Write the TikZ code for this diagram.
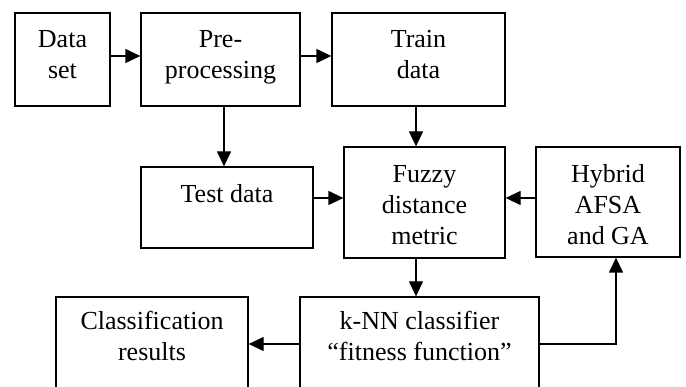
\documentclass[tikz,border=0pt]{standalone}
\usepackage{fontspec}
\setmainfont{Liberation Serif}
\usetikzlibrary{arrows.meta,calc}
\begin{document}
\begin{tikzpicture}[x=1pt,y=-1pt,
  box/.style={draw,line width=1.3pt,rectangle,inner sep=0pt},
  lbl/.style={anchor=north,inner sep=0pt,align=center,font=\fontsize{26}{31}\selectfont},
  arr/.style={line width=1.3pt,-{Triangle[length=15pt,width=14pt]}}]
\useasboundingbox (0,0) rectangle (686,387);
\clip (0,0) rectangle (686,387);
% boxes (centre, width, height)
\node[box,minimum width=95pt,minimum height=93pt] (data) at (62.5,59.5) {};
\node[box,minimum width=159pt,minimum height=93pt] (pre) at (220.5,59.5) {};
\node[box,minimum width=173pt,minimum height=93pt] (train) at (418.5,59.5) {};
\node[box,minimum width=172pt,minimum height=81pt] (test) at (227,207.5) {};
\node[box,minimum width=161pt,minimum height=111pt] (fuzzy) at (424.5,202.5) {};
\node[box,minimum width=144pt,minimum height=110pt] (hybrid) at (608,202) {};
\node[box,minimum width=192pt,minimum height=110pt] (class) at (152,352) {};
\node[box,minimum width=239pt,minimum height=110pt] (knn) at (419.5,352) {};
% labels
\node[lbl] (tdata) at ($(data.north)+(0,13.3)$) {\strut Data\\set};
\node[lbl] (tpre) at ($(pre.north)+(0,13.3)$) {\strut Pre-\\processing};
\node[lbl] (ttrain) at ($(train.north)+(0,13.3)$) {\strut Train\\data};
\node[lbl] (ttest) at ($(test.north)+(0,14.3)$) {\strut Test data};
\node[lbl] (tfuzzy) at ($(fuzzy.north)+(0,14.3)$) {\strut Fuzzy\\distance\\metric};
\node[lbl] (thybrid) at ($(hybrid.north)+(0,14.3)$) {\strut Hybrid\\AFSA\\and GA};
\node[lbl] (tclass) at ($(class.north)+(0,11.3)$) {\strut Classification\\results};
\node[lbl] (tknn) at ($(knn.north)+(0,11.3)$) {\strut k-NN classifier\\“fitness function”};
% helper coordinates
\coordinate (rowA) at (0,56);
\coordinate (rowB) at (0,198);
\coordinate (rowC) at (0,344);
\coordinate (colH) at (616,0);
% connectors
\draw[arr] (data.east |- rowA) -- (pre.west |- rowA);
\draw[arr] (pre.east |- rowA) -- (train.west |- rowA);
\draw[arr] ([xshift=3.5pt]pre.south) -- ([xshift=3.5pt]pre.south |- test.north);
\draw[arr] ([xshift=-2.5pt]train.south) -- ([xshift=-2.5pt]train.south |- fuzzy.north);
\draw[arr] (test.east |- rowB) -- (fuzzy.west |- rowB);
\draw[arr] (hybrid.west |- rowB) -- (fuzzy.east |- rowB);
\draw[arr] ([xshift=-8.5pt]fuzzy.south) -- ([xshift=-8.5pt]fuzzy.south |- knn.north);
\draw[arr] (knn.west |- rowC) -- (class.east |- rowC);
\draw[arr] (knn.east |- rowC) -| (colH |- hybrid.south);
\end{tikzpicture}
\end{document}
